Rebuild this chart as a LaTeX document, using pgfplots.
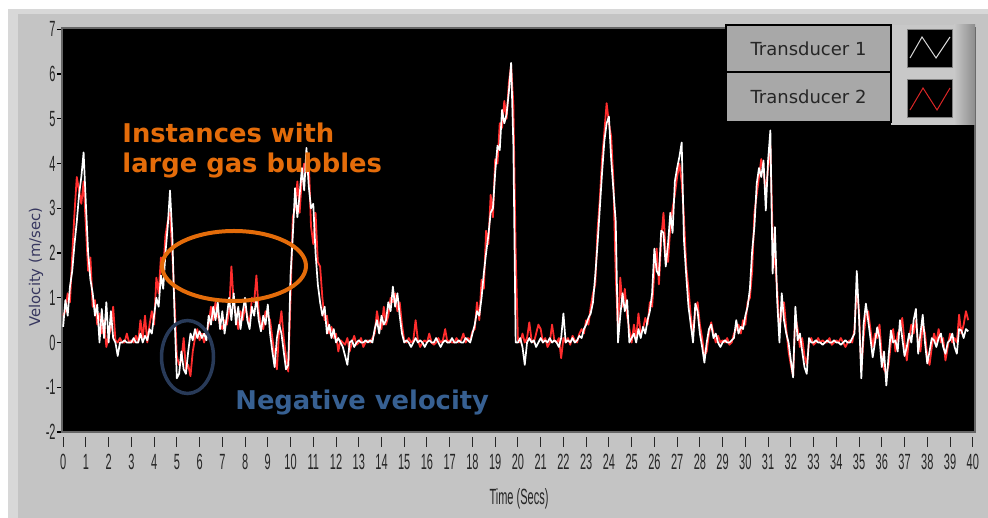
\documentclass[border=0pt]{standalone}
\usepackage{pgfplots}
\pgfplotsset{compat=1.18}
\usepackage{pgfplotstable}
\usepackage{fontspec}
\setmainfont{DejaVu Sans}
\newfontfamily\narrowfont{Liberation Sans}
\usepackage{graphicx}

\definecolor{framegray}{RGB}{196,196,196}
\definecolor{framelight}{RGB}{216,216,216}
\definecolor{legbox}{RGB}{168,168,168}
\definecolor{panelgray}{RGB}{200,200,200}
\definecolor{paneldark}{RGB}{140,140,140}
\definecolor{annorange}{RGB}{228,108,10}
\definecolor{annblue}{RGB}{55,96,146}
\definecolor{ellblue}{RGB}{40,58,88}
\definecolor{ylabcol}{RGB}{55,55,95}
\definecolor{tred}{RGB}{255,45,45}

\newcommand{\cond}[1]{\scalebox{0.5}[1]{#1}}

\pgfplotstableread{
t v1 v2
0.0 0.35 0.60
0.1 0.95 0.70
0.2 0.60 1.10
0.3 1.25 0.90
0.4 1.60 1.95
0.5 2.20 2.90
0.6 2.70 3.70
0.7 3.30 3.40
0.8 3.70 3.10
0.9 4.25 3.60
1.0 3.10 2.60
1.1 2.00 1.60
1.2 1.40 1.90
1.3 1.10 0.80
1.4 0.60 0.95
1.5 0.85 0.40
1.6 0.00 0.65
1.7 0.75 0.20
1.8 0.10 0.50
1.9 0.90 -0.10
2.0 0.00 0.15
2.1 0.70 0.30
2.2 0.10 0.80
2.3 0.00 0.05
2.4 -0.30 0.00
2.5 0.00 0.10
2.6 0.00 0.00
2.7 0.05 0.00
2.8 0.00 0.20
2.9 0.00 0.00
3.0 0.00 0.05
3.1 0.10 0.00
3.2 0.00 0.15
3.3 0.00 0.00
3.4 0.20 0.50
3.5 0.00 0.10
3.6 0.15 0.60
3.7 0.05 0.00
3.8 0.30 0.40
3.9 0.20 0.70
4.0 0.60 0.40
4.1 1.00 1.45
4.2 0.80 1.10
4.3 1.50 1.90
4.4 1.20 1.60
4.5 2.00 2.40
4.6 2.60 2.70
4.7 3.40 2.90
4.8 2.40 2.00
4.9 0.60 0.90
5.0 -0.80 -0.30
5.1 -0.70 -0.50
5.2 -0.20 -0.40
5.3 -0.60 0.10
5.4 -0.70 -0.60
5.5 -0.20 -0.50
5.6 0.20 -0.75
5.7 0.05 -0.20
5.8 0.30 0.10
5.9 0.10 0.30
6.0 0.25 0.05
6.1 0.10 0.20
6.2 0.20 0.00
6.3 0.05 0.20
6.4 0.60 0.40
6.5 0.40 0.80
6.6 0.80 0.50
6.7 0.50 0.90
6.8 0.90 0.60
6.9 0.30 0.40
7.0 0.70 0.30
7.1 0.20 0.50
7.2 0.60 0.40
7.3 1.00 0.70
7.4 0.50 1.70
7.5 1.10 0.90
7.6 0.40 0.60
7.7 0.80 0.30
7.8 0.30 0.70
7.9 0.70 0.50
8.0 1.00 0.80
8.1 0.50 0.60
8.2 0.30 0.40
8.3 0.80 1.00
8.4 0.60 0.90
8.5 1.00 1.50
8.6 0.50 0.70
8.7 0.25 0.40
8.8 0.60 0.30
8.9 0.40 0.70
9.0 0.85 0.60
9.1 0.20 0.50
9.2 -0.20 0.10
9.3 -0.55 -0.30
9.4 0.10 -0.60
9.5 0.40 0.30
9.6 0.20 0.70
9.7 -0.20 0.10
9.8 -0.60 -0.30
9.9 -0.50 -0.65
10.0 1.50 1.00
10.1 2.40 2.80
10.2 3.45 3.00
10.3 2.80 3.60
10.4 3.30 2.90
10.5 3.90 3.70
10.6 3.40 4.00
10.7 4.35 3.80
10.8 3.50 4.10
10.9 3.00 2.60
11.0 3.10 2.20
11.1 2.00 2.90
11.2 1.30 1.80
11.3 0.90 1.70
11.4 0.60 1.00
11.5 0.80 0.50
11.6 0.20 0.60
11.7 0.40 0.20
11.8 0.10 0.35
11.9 0.30 0.10
12.0 0.00 0.20
12.1 0.10 -0.20
12.2 0.00 0.05
12.3 -0.10 0.00
12.4 -0.30 -0.05
12.5 -0.50 0.10
12.6 0.00 -0.20
12.7 0.05 0.00
12.8 -0.10 0.15
12.9 0.00 -0.05
13.0 0.05 0.00
13.1 0.00 0.10
13.2 0.00 -0.10
13.3 0.05 0.00
13.4 0.00 0.05
13.5 0.05 0.00
13.6 0.00 0.10
13.7 0.30 0.20
13.8 0.50 0.70
13.9 0.20 0.40
14.0 0.60 0.30
14.1 0.40 0.80
14.2 0.50 0.40
14.3 0.90 0.60
14.4 0.70 1.00
14.5 1.25 0.90
14.6 0.80 1.10
14.7 1.10 0.70
14.8 0.60 0.90
14.9 0.20 0.40
15.0 0.00 0.05
15.1 0.05 0.00
15.2 0.00 0.10
15.3 -0.10 0.00
15.4 0.00 0.05
15.5 0.10 0.50
15.6 0.00 0.05
15.7 0.05 -0.10
15.8 0.00 0.00
15.9 -0.10 0.05
16.0 0.00 0.00
16.1 0.05 0.20
16.2 0.00 0.00
16.3 0.00 -0.05
16.4 0.10 0.00
16.5 0.00 0.10
16.6 -0.10 0.00
16.7 0.00 0.05
16.8 0.05 0.30
16.9 0.00 0.00
17.0 0.00 0.05
17.1 0.10 0.00
17.2 0.00 0.00
17.3 0.00 0.10
17.4 0.05 0.00
17.5 0.00 0.05
17.6 0.00 0.20
17.7 0.10 0.00
17.8 0.05 0.10
17.9 0.00 0.05
18.0 0.20 0.25
18.1 0.40 0.30
18.2 0.70 0.90
18.3 0.60 0.50
18.4 1.00 1.40
18.5 1.55 1.20
18.6 2.00 2.50
18.7 2.40 2.20
18.8 2.90 3.30
18.9 3.00 2.80
19.0 3.80 4.10
19.1 4.40 4.00
19.2 4.30 4.90
19.3 5.20 4.80
19.4 4.90 5.40
19.5 5.10 5.00
19.6 5.60 5.80
19.7 6.25 6.20
19.8 4.40 5.30
19.9 0.00 2.00
20.0 0.00 0.05
20.1 0.10 0.00
20.2 -0.10 0.20
20.3 -0.50 0.00
20.4 0.00 0.10
20.5 0.10 0.45
20.6 0.00 0.05
20.7 0.05 0.00
20.8 -0.10 0.20
20.9 0.00 0.40
21.0 0.10 0.30
21.1 0.00 0.00
21.2 0.05 0.10
21.3 0.00 -0.10
21.4 0.10 0.00
21.5 0.00 0.40
21.6 0.05 0.05
21.7 0.00 0.00
21.8 -0.10 0.10
21.9 0.10 -0.35
22.0 0.65 0.10
22.1 0.00 0.00
22.2 0.05 0.10
22.3 0.00 -0.05
22.4 0.10 0.15
22.5 0.00 0.05
22.6 0.05 0.00
22.7 0.15 0.20
22.8 0.10 0.30
22.9 0.30 0.20
23.0 0.40 0.50
23.1 0.55 0.40
23.2 0.65 0.80
23.3 0.90 1.10
23.4 1.50 1.30
23.5 2.20 2.50
23.6 3.00 3.20
23.7 3.80 4.10
23.8 4.50 4.70
23.9 4.90 5.35
24.0 5.05 4.90
24.1 4.10 4.60
24.2 3.40 3.60
24.3 2.70 1.50
24.4 0.00 0.30
24.5 0.60 1.45
24.6 1.10 0.80
24.7 0.70 1.20
24.8 0.95 0.60
24.9 0.00 0.30
25.0 0.10 0.00
25.1 0.20 0.40
25.2 0.00 0.10
25.3 0.30 0.65
25.4 0.10 0.20
25.5 0.35 0.30
25.6 0.20 0.55
25.7 0.50 0.40
25.8 0.70 0.90
25.9 1.10 0.80
26.0 2.10 1.60
26.1 1.60 2.10
26.2 1.50 1.30
26.3 2.50 2.30
26.4 2.45 2.90
26.5 1.70 2.00
26.6 2.20 1.80
26.7 2.90 2.60
26.8 2.45 3.00
26.9 3.60 3.30
27.0 3.90 3.70
27.1 4.15 4.00
27.2 4.47 3.60
27.3 2.30 2.80
27.4 1.50 1.70
27.5 0.80 1.20
27.6 0.40 0.60
27.7 0.00 0.20
27.8 0.87 0.70
27.9 0.70 0.90
28.0 0.20 0.40
28.1 -0.10 0.10
28.2 -0.45 -0.30
28.3 0.00 -0.20
28.4 0.30 0.20
28.5 0.40 0.45
28.6 0.10 0.20
28.7 0.20 0.00
28.8 0.00 0.15
28.9 -0.10 0.00
29.0 0.00 0.05
29.1 0.05 0.00
29.2 0.00 0.10
29.3 0.00 -0.05
29.4 0.05 0.00
29.5 0.10 0.20
29.6 0.50 0.30
29.7 0.20 0.40
29.8 0.35 0.20
29.9 0.30 0.50
30.0 0.60 0.40
30.1 0.80 0.90
30.2 1.20 1.00
30.3 2.05 1.60
30.4 2.60 2.90
30.5 3.55 3.30
30.6 3.90 3.70
30.7 3.70 4.10
30.8 4.07 3.80
30.9 2.95 3.40
31.0 4.07 3.90
31.1 4.74 4.40
31.2 1.54 2.40
31.3 2.58 1.80
31.4 0.94 1.20
31.5 0.00 0.30
31.6 1.10 0.70
31.7 0.50 0.90
31.8 0.20 0.30
31.9 0.00 -0.20
32.0 -0.40 -0.50
32.1 -0.78 -0.75
32.2 0.80 0.60
32.3 0.05 0.30
32.4 0.20 -0.10
32.5 -0.20 0.10
32.6 -0.55 -0.30
32.7 -0.70 -0.50
32.8 0.10 0.00
32.9 0.00 0.10
33.0 0.00 -0.05
33.1 0.05 0.00
33.2 0.00 0.10
33.3 0.00 0.00
33.4 -0.05 0.05
33.5 0.00 0.00
33.6 0.05 0.00
33.7 0.00 0.10
33.8 0.00 -0.05
33.9 0.05 0.00
34.0 0.00 0.05
34.1 0.00 0.00
34.2 -0.05 0.10
34.3 0.00 0.00
34.4 0.05 -0.10
34.5 0.00 0.00
34.6 0.00 0.05
34.7 0.10 0.00
34.8 0.20 0.30
34.9 1.60 1.20
35.0 0.56 0.70
35.1 -0.80 -0.60
35.2 0.40 0.10
35.3 0.87 0.60
35.4 0.50 0.70
35.5 0.10 0.30
35.6 -0.33 -0.10
35.7 0.00 0.20
35.8 0.34 0.10
35.9 0.10 0.40
36.0 -0.55 -0.30
36.1 -0.20 -0.60
36.2 -0.96 -0.70
36.3 -0.30 -0.50
36.4 0.27 0.00
36.5 0.00 0.30
36.6 0.05 -0.20
36.7 -0.20 0.20
36.8 0.50 0.30
36.9 0.10 0.55
37.0 -0.30 0.00
37.1 -0.10 -0.40
37.2 0.20 0.10
37.3 0.00 0.40
37.4 0.50 0.20
37.5 0.75 0.50
37.6 -0.25 0.00
37.7 0.20 -0.20
37.8 0.62 0.40
37.9 0.00 0.20
38.0 -0.47 -0.30
38.1 -0.20 -0.50
38.2 0.10 -0.10
38.3 0.05 0.20
38.4 -0.10 0.00
38.5 0.10 0.30
38.6 0.20 0.00
38.7 -0.10 0.10
38.8 -0.25 -0.40
38.9 0.00 -0.10
39.0 0.05 0.20
39.1 0.20 0.00
39.2 -0.10 0.10
39.3 -0.25 0.00
39.4 0.30 0.62
39.5 0.27 0.20
39.6 0.10 0.40
39.7 0.30 0.70
39.8 0.25 0.50
}\datatable

\begin{document}
\begin{tikzpicture}
\useasboundingbox (0,0) rectangle (494pt,259pt);
\fill[white] (0,0) rectangle (494pt,259pt);
\fill[framelight] (3.75pt,0) rectangle (494pt,254.5pt);
\fill[framegray] (8.75pt,0) rectangle (494pt,252pt);
\begin{axis}[
  at={(31pt,43pt)}, anchor=south west,
  scale only axis, width=456.5pt, height=202pt,
  xmin=-0.05, xmax=40.1, ymin=-2, ymax=7.03,
  axis background/.style={fill=black},
  axis line style={draw=gray!80!black, line width=0.6pt},
  xtick={0,1,...,40}, ytick={-2,-1,...,7},
  tick pos=left,
  tick align=outside, major tick length=5pt,
  xtick style={draw=black!85, line width=0.5pt, yshift=-2.5pt},
  ytick style={draw=black, line width=0.6pt, xshift=2.5pt},
  /pgf/number format/assume math mode=true,
  xticklabel={\cond{\pgfmathprintnumber{\tick}}},
  yticklabel={\cond{\pgfmathprintnumber{\tick}}},
  ticklabel style={font=\narrowfont\fontsize{11}{12}\selectfont, text=black!85},
  xticklabel style={yshift=-2.5pt},
  yticklabel style={xshift=2.5pt, inner sep=0.5pt},
]
\addplot[tred, line width=0.9pt, line join=round] table[x=t,y=v2] {\datatable};
\addplot[white, line width=0.85pt, line join=round] table[x=t,y=v1] {\datatable};
\end{axis}
% axis titles
\node[rotate=90, font=\fontsize{7.4}{8}\selectfont, text=ylabcol] at (18pt,125.5pt) {Velocity (m/sec)};
\node[font=\narrowfont\fontsize{11}{12}\selectfont, text=black!85] at (259.5pt,9.5pt) {\cond{Time (Secs)}};
% annotations
\node[anchor=base west, inner sep=0pt, font=\bfseries\fontsize{12.9}{14}\selectfont, text=annorange] at (61pt,187.5pt) {Instances with};
\node[anchor=base west, inner sep=0pt, font=\bfseries\fontsize{12.9}{14}\selectfont, text=annorange] at (61pt,172.5pt) {large gas bubbles};
\node[anchor=base west, inner sep=0pt, font=\bfseries\fontsize{12.9}{14}\selectfont, text=annblue] at (117.5pt,54.25pt) {Negative velocity};
\draw[annorange, line width=2pt] (117pt,126pt) ellipse [x radius=36pt, y radius=17.5pt];
\draw[ellblue, line width=1.75pt] (93.75pt,80.5pt) ellipse [x radius=13pt, y radius=18.25pt];
% legend
\fill[panelgray] (445.5pt,196.5pt) rectangle (487.5pt,246.5pt);
\shade[left color=panelgray, right color=paneldark] (477pt,196.5pt) rectangle (487.5pt,246.5pt);
\draw[black, line width=0.7pt, fill=legbox] (363pt,223pt) rectangle (445.5pt,246.5pt);
\draw[black, line width=0.7pt, fill=legbox] (363pt,198pt) rectangle (445.5pt,223pt);
\node[font=\fontsize{9}{10}\selectfont, text=black!85] at (404.25pt,234.75pt) {Transducer 1};
\node[font=\fontsize{9}{10}\selectfont, text=black!85] at (404.25pt,210.5pt) {Transducer 2};
\draw[gray, line width=0.5pt, fill=black] (453.5pt,225pt) rectangle (476pt,244pt);
\draw[gray, line width=0.5pt, fill=black] (453.5pt,200pt) rectangle (476pt,219pt);
\draw[white!85!black, line width=0.5pt] (455pt,230pt) -- (461pt,240.5pt) -- (468pt,230pt) -- (475pt,240.5pt);
\draw[tred!85!black, line width=0.5pt] (455pt,204pt) -- (461.5pt,215pt) -- (468.5pt,204pt) -- (475pt,215pt);
\end{tikzpicture}
\end{document}
